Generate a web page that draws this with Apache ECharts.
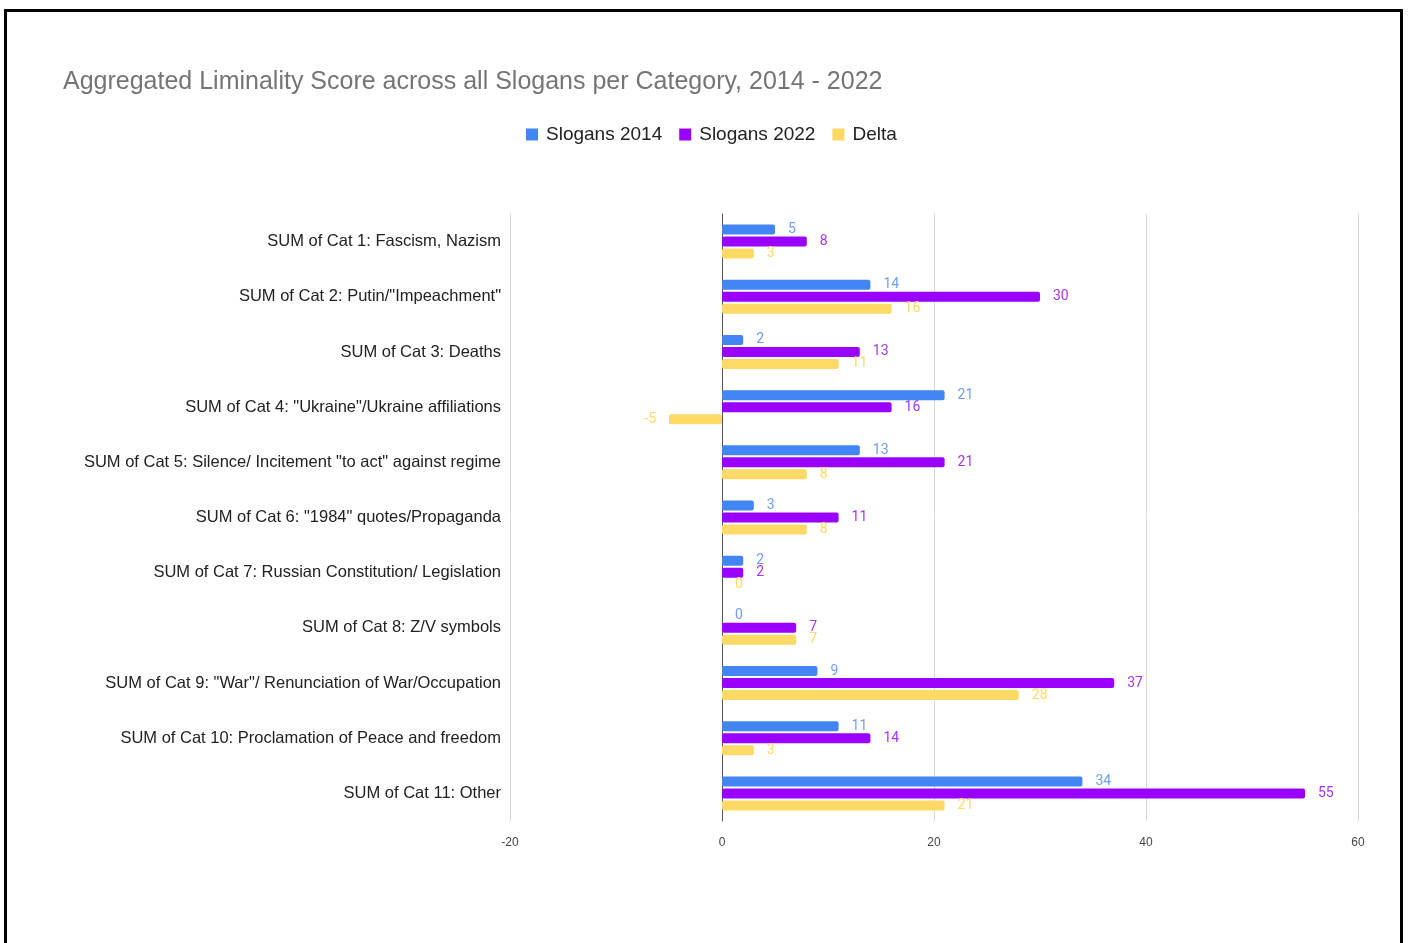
<!DOCTYPE html>
<html>
<head>
<meta charset="utf-8">
<script src="https://cdn.jsdelivr.net/npm/echarts@6/dist/echarts.min.js"></script>
<style>
html,body{margin:0;padding:0;width:1408px;height:943px;overflow:hidden;background:#fff;}
#chart{position:absolute;left:0;top:0;width:1408px;height:943px;}
#frame{position:absolute;left:4px;top:9px;width:1393px;height:1000px;border:3px solid #000;pointer-events:none;}
</style>
</head>
<body>
<div id="chart"></div>
<div id="frame"></div>
<script>
const categories = [
  'SUM of Cat 1: Fascism, Nazism',
  'SUM of Cat 2: Putin/"Impeachment"',
  'SUM of Cat 3: Deaths',
  'SUM of Cat 4: "Ukraine"/Ukraine affiliations',
  'SUM of Cat 5: Silence/ Incitement "to act" against regime',
  'SUM of Cat 6: "1984" quotes/Propaganda',
  'SUM of Cat 7: Russian Constitution/ Legislation',
  'SUM of Cat 8: Z/V symbols',
  'SUM of Cat 9: "War"/ Renunciation of War/Occupation',
  'SUM of Cat 10: Proclamation of Peace and freedom',
  'SUM of Cat 11: Other'
];
const slogans2014 = [5, 14, 2, 21, 13, 3, 2, 0, 9, 11, 34];
const slogans2022 = [8, 30, 13, 16, 21, 11, 2, 7, 37, 14, 55];
const delta = [3, 16, 11, -5, 8, 8, 0, 7, 28, 3, 21];
const xTicks = [-20, 0, 20, 40, 60];

const colors = ['#4285F4', '#9900FF', '#FFD966'];
const labelColors = ['#6d9ef6', '#a933ff', '#ffd966'];
const font = 'Arial, "Liberation Sans", sans-serif';
const labelFont = 'Roboto, Arial, sans-serif';

function mkSeries(name, data, i) {
  return {
    name: name,
    type: 'bar',
    data: data.map(function (v) {
      return v < 0 ? { value: v, label: { position: 'left' } } : v;
    }),
    barWidth: 10,
    barGap: '20%',
    itemStyle: { color: colors[i], borderRadius: 2 },
    label: {
      show: true,
      position: 'right',
      distance: 13,
      color: labelColors[i],
      fontFamily: labelFont,
      fontSize: 14
    }
  };
}

const chart = echarts.init(document.getElementById('chart'), null, { renderer: 'canvas' });
chart.setOption({
  animation: false,
  title: {
    text: 'Aggregated Liminality Score across all Slogans per Category, 2014 - 2022',
    left: 58,
    top: 65,
    textStyle: { fontFamily: font, fontSize: 25, fontWeight: 'normal', color: '#757575' }
  },
  legend: {
    data: ['Slogans 2014', 'Slogans 2022', 'Delta'],
    left: 521,
    top: 120,
    itemWidth: 12,
    itemHeight: 12,
    itemGap: 17,
    icon: 'rect',
    textStyle: { fontFamily: font, fontSize: 19, color: '#222', padding: [0, 0, 0, 3] }
  },
  grid: { left: 510, right: 50, top: 214, bottom: 122, containLabel: false, outerBoundsMode: 'none' },
  xAxis: {
    type: 'value',
    min: xTicks[0],
    max: xTicks[xTicks.length - 1],
    interval: 20,
    axisLine: { show: false },
    axisTick: { show: false },
    splitLine: { show: true, lineStyle: { color: '#d9d9d9', width: 1 } },
    axisLabel: { margin: 16, fontFamily: font, fontSize: 12, color: '#444' }
  },
  yAxis: {
    type: 'category',
    data: categories,
    inverse: true,
    axisLine: { show: true, onZero: true, lineStyle: { color: '#555', width: 1 } },
    axisTick: { show: false },
    axisLabel: { margin: 9, fontFamily: font, fontSize: 16.5, color: '#222' }
  },
  series: [
    mkSeries('Slogans 2014', slogans2014, 0),
    mkSeries('Slogans 2022', slogans2022, 1),
    mkSeries('Delta', delta, 2)
  ]
});
</script>
</body>
</html>
